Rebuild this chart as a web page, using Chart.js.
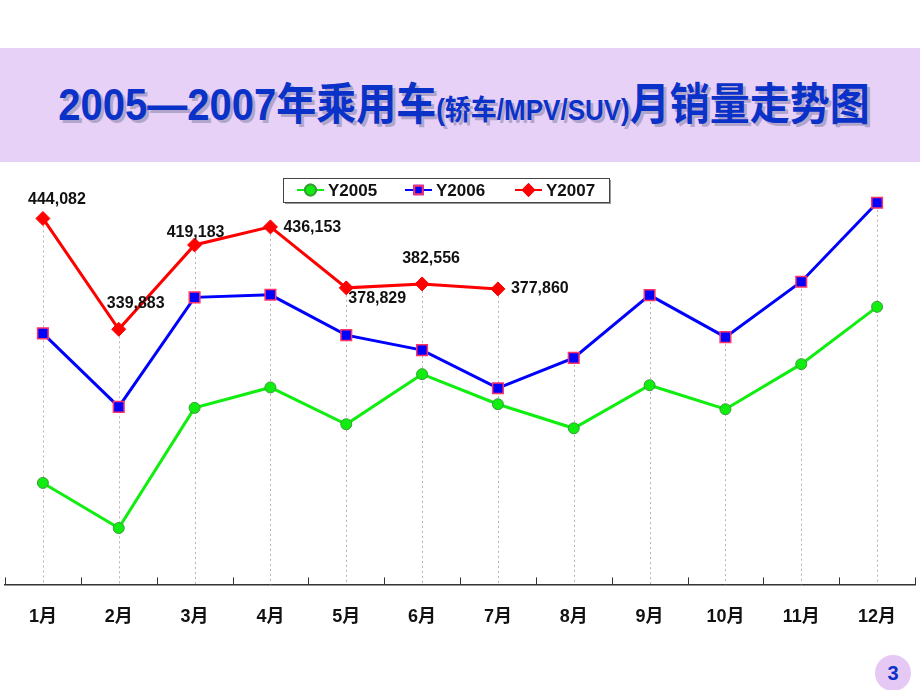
<!DOCTYPE html>
<html>
<head>
<meta charset="utf-8">
<script src="https://cdn.jsdelivr.net/npm/chart.js@4"></script>
<style>
  body { margin: 0; width: 920px; height: 690px; overflow: hidden; background: #fff; position: relative;
         font-family: "Liberation Sans", Arial, "Noto Sans CJK SC", sans-serif; }
  #band { position: absolute; left: 0; top: 48px; width: 920px; height: 114px; background: #E8D1F6; }
  #title { position: absolute; left: 4px; top: 48px; width: 920px; height: 114px; line-height: 114px; text-align: center;
           color: #0A32C8; font-weight: bold; font-size: 40px; white-space: nowrap;
           text-shadow: 3px 3px 0 rgba(110, 110, 150, 0.45); }
  #title span { display: inline-block; transform: scaleY(1.1); }
  #title small { font-size: 26px; }
  #wrap { position: absolute; left: -4px; top: 0; width: 928px; height: 690px; }
  #pg { position: absolute; left: 875px; top: 655px; width: 36px; height: 36px; border-radius: 50%; background: #E6C8F5;
        color: #0A32C8; font-weight: bold; font-size: 20px; line-height: 36px; text-align: center; }
</style>
</head>
<body>
<div id="band"></div>
<div id="title"><span>2005—2007年乘用车<small>(轿车/MPV/SUV)</small>月销量走势图</span></div>
<div id="wrap"><canvas id="myChart"></canvas></div>
<div id="pg">3</div>
<script>
const months = ["1月", "2月", "3月", "4月", "5月", "6月", "7月", "8月", "9月", "10月", "11月", "12月"];
const y2005 = [195400, 153000, 266000, 285200, 250600, 297700, 269400, 246800, 287300, 264700, 307100, 361000];
const y2006 = [336000, 266900, 369900, 372300, 334400, 320300, 284500, 313000, 372000, 332500, 384600, 458900];
const y2007 = [444082, 339883, 419183, 436153, 378829, 382556, 377860];
const seriesNames = ["Y2005", "Y2006", "Y2007"];
const yMin = 100000;
const yMax = 500000;

// label placement for the Y2007 values: dx, dy, align
const labelOffsets = [[14, -19, "center"], [17, -26, "center"], [1, -12, "center"], [13, 1, "left"],
                      [31, 11, "center"], [9, -25, "center"], [13, 0, "left"]];

const FONT = '"Liberation Sans", Arial, "Noto Sans CJK SC", sans-serif';

// dotted drop lines from the highest point of each month to the axis
const dropLines = {
  id: "dropLines",
  beforeDatasetsDraw(chart) {
    const ctx = chart.ctx;
    const bottom = chart.chartArea.bottom;
    ctx.save();
    ctx.strokeStyle = "#B8B0B8";
    ctx.lineWidth = 1;
    ctx.setLineDash([2, 3]);
    months.forEach((m, i) => {
      let top = null;
      chart.data.datasets.forEach((ds, d) => {
        const pt = chart.getDatasetMeta(d).data[i];
        if (pt && ds.data[i] != null) top = top === null ? pt.y : Math.min(top, pt.y);
      });
      if (top === null) return;
      const x = chart.scales.x.getPixelForValue(i);
      ctx.beginPath();
      ctx.moveTo(Math.round(x) + 0.5, top + 7);
      ctx.lineTo(Math.round(x) + 0.5, bottom);
      ctx.stroke();
    });
    ctx.restore();
  },
};

// inward tick marks between categories, value labels, boxed legend
const extras = {
  id: "extras",
  afterDraw(chart) {
    const ctx = chart.ctx;
    const xs = chart.scales.x;
    const bottom = chart.chartArea.bottom;
    ctx.save();
    ctx.strokeStyle = "#333";
    ctx.lineWidth = 1;
    for (let k = 0; k <= months.length; k++) {
      const x = Math.round(xs.getPixelForValue(k - 0.5)) + 0.5;
      ctx.beginPath();
      ctx.moveTo(x, bottom - 7);
      ctx.lineTo(x, bottom);
      ctx.stroke();
    }

    ctx.fillStyle = "#111";
    ctx.font = "bold 16px " + FONT;
    ctx.textBaseline = "middle";
    const meta = chart.getDatasetMeta(2);
    y2007.forEach((v, i) => {
      const pt = meta.data[i];
      const o = labelOffsets[i];
      ctx.textAlign = o[2];
      ctx.fillText(v.toLocaleString("en-US"), pt.x + o[0], pt.y + o[1]);
    });

    // legend box (canvas is shifted 4px left of the page)
    const bx = 287, by = 178, bw = 326, bh = 24;
    ctx.fillStyle = "#999";
    ctx.fillRect(bx + 2, by + 2, bw, bh);
    ctx.fillStyle = "#fff";
    ctx.fillRect(bx, by, bw, bh);
    ctx.strokeStyle = "#444";
    ctx.strokeRect(bx + 0.5, by + 0.5, bw, bh);
    const cy = by + bh / 2;
    const items = [301, 409, 519];
    chart.data.datasets.forEach((ds, d) => {
      const x0 = items[d];
      ctx.strokeStyle = ds.borderColor;
      ctx.lineWidth = 2;
      ctx.beginPath();
      ctx.moveTo(x0, cy);
      ctx.lineTo(x0 + 27, cy);
      ctx.stroke();
      Chart.helpers.drawPoint(ctx, {
        pointStyle: ds.pointStyle,
        radius: d === 1 ? 6 : 5.5,
        borderWidth: 1,
      }, x0 + 13.5, cy);
      ctx.fillStyle = ds.pointBackgroundColor;
      ctx.strokeStyle = ds.pointBorderColor;
      ctx.fill();
      ctx.stroke();
      ctx.fillStyle = "#111";
      ctx.font = "bold 17px " + FONT;
      ctx.textAlign = "left";
      ctx.fillText(seriesNames[d], x0 + 31, cy + 1);
    });
    ctx.restore();
  },
};

const ctx = document.getElementById("myChart").getContext("2d");
const myChart = new Chart(ctx, {
  type: "line",
  data: {
    labels: months,
    datasets: [
      {
        label: seriesNames[0],
        data: y2005,
        borderColor: "#10EE10",
        borderWidth: 3,
        pointStyle: "circle",
        pointRadius: 5.5,
        pointBackgroundColor: "#10EE10",
        pointBorderColor: "#3A9A3A",
        pointBorderWidth: 1,
      },
      {
        label: seriesNames[1],
        data: y2006,
        borderColor: "#0000FF",
        borderWidth: 3,
        pointStyle: "rect",
        pointRadius: 7.5,
        pointBackgroundColor: "#0000FF",
        pointBorderColor: "#FF3366",
        pointBorderWidth: 1.5,
      },
      {
        label: seriesNames[2],
        data: y2007,
        borderColor: "#FF0000",
        borderWidth: 3,
        pointStyle: "rectRot",
        pointRadius: 7,
        pointBackgroundColor: "#FF0000",
        pointBorderColor: "#FF0000",
        pointBorderWidth: 1,
      },
    ],
  },
  options: {
    responsive: true,
    maintainAspectRatio: false,
    animation: false,
    layout: { padding: { top: 159, left: 0, right: 0, bottom: 40 } },
    plugins: {
      legend: { display: false },
      tooltip: { enabled: false },
    },
    elements: { line: { tension: 0 } },
    scales: {
      x: {
        offset: true,
        grid: { display: false, drawTicks: false },
        border: { display: true, color: "#333", width: 1.5 },
        ticks: { color: "#111", padding: 22, font: { family: FONT, size: 18, weight: "bold" } },
      },
      y: {
        display: false,
        min: yMin,
        max: yMax,
      },
    },
  },
  plugins: [dropLines, extras],
});
</script>
</body>
</html>
